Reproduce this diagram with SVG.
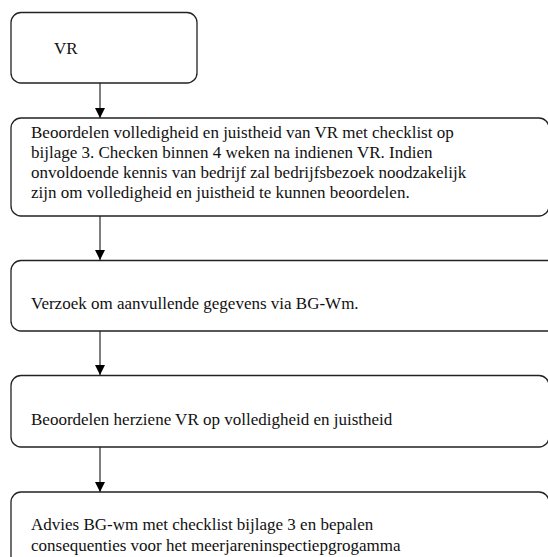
<svg xmlns="http://www.w3.org/2000/svg" width="548" height="557" viewBox="0 0 548 557">
<defs>
<style>
.box{fill:#fff;stroke:#222;stroke-width:1.3}
.t{font-family:'Liberation Serif','Times New Roman',Times,'Nimbus Roman','DejaVu Serif',serif;font-size:17px;fill:#111}
.c{stroke:#555;stroke-width:1.5;fill:none}
</style>
<marker id="ah" viewBox="0 0 10 10" refX="10" refY="5" markerWidth="10" markerHeight="10" markerUnits="userSpaceOnUse" orient="auto">
<path d="M0,0 L10,5 L0,10 Z" fill="#000"/>
</marker>
</defs>
<rect width="548" height="557" fill="#fff"/>
<g id="connectors">
<line class="c" x1="100" y1="83" x2="100" y2="118" marker-end="url(#ah)"/>
<line class="c" x1="100" y1="216" x2="100" y2="260" marker-end="url(#ah)"/>
<line class="c" x1="100" y1="331" x2="100" y2="375" marker-end="url(#ah)"/>
<line class="c" x1="100" y1="447" x2="100" y2="492" marker-end="url(#ah)"/>
</g>
<g id="n1">
<rect class="box" x="11" y="12.5" width="186" height="70.5" rx="10" ry="10"/>
<text class="t" x="54" y="54">VR</text>
</g>
<g id="n2">
<rect class="box" x="11" y="118" width="538" height="98" rx="10" ry="10"/>
<text class="t" x="31" y="138">Beoordelen volledigheid en juistheid van VR met checklist op</text>
<text class="t" x="31" y="158">bijlage 3. Checken binnen 4 weken na indienen VR. Indien</text>
<text class="t" x="31" y="178">onvoldoende kennis van bedrijf zal bedrijfsbezoek noodzakelijk</text>
<text class="t" x="31" y="198">zijn om volledigheid en juistheid te kunnen beoordelen.</text>
</g>
<g id="n3">
<rect class="box" x="11" y="260.5" width="580" height="70.5" rx="10" ry="10"/>
<text class="t" x="31" y="309">Verzoek om aanvullende gegevens via BG-Wm.</text>
</g>
<g id="n4">
<rect class="box" x="11" y="375.5" width="538" height="71.5" rx="10" ry="10"/>
<text class="t" x="31" y="425">Beoordelen herziene VR op volledigheid en juistheid</text>
</g>
<g id="n5">
<rect class="box" x="11" y="492" width="538" height="90" rx="10" ry="10"/>
<text class="t" x="31" y="530">Advies BG-wm met checklist bijlage 3 en bepalen</text>
<text class="t" x="31" y="551">consequenties voor het meerjareninspectiepgrogamma</text>
</g>
</svg>
